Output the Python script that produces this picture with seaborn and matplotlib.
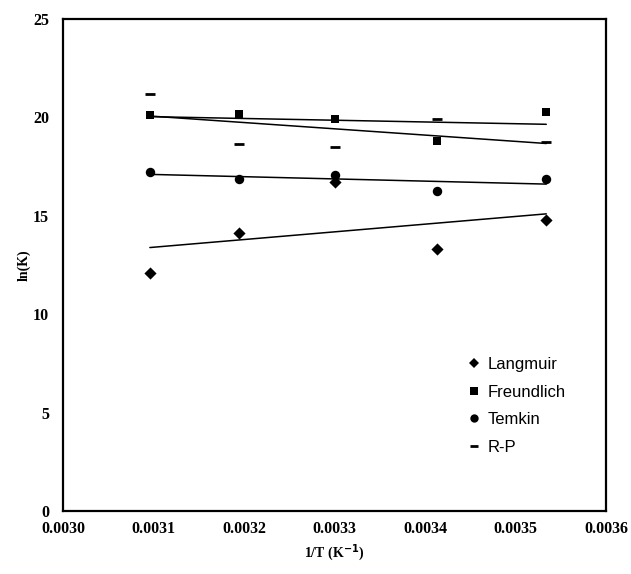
import numpy as np
import pandas as pd
import matplotlib
matplotlib.use("Agg")
import matplotlib.pyplot as plt
from matplotlib.lines import Line2D
import seaborn as sns

# Temperatures 323, 313, 303, 293, 283 K expressed as 1/T
inv_T = [0.003096, 0.003195, 0.003300, 0.003413, 0.003534]

langmuir = [12.11, 14.14, 16.73, 13.30, 14.79]
freundlich = [20.10, 20.16, 19.93, 18.80, 20.26]
temkin = [17.24, 16.85, 17.07, 16.28, 16.89]
rp = [21.19, 18.63, 18.51, 19.92, 18.73]

series_names = ["Langmuir", "Freundlich", "Temkin", "R-P"]
x_ticks = [0.0030, 0.0031, 0.0032, 0.0033, 0.0034, 0.0035, 0.0036]
y_ticks = [0, 5, 10, 15, 20, 25]

df = pd.DataFrame({
    "invT": inv_T * 4,
    "lnK": langmuir + freundlich + temkin + rp,
    "model": sum([[n] * len(inv_T) for n in series_names], []),
})

sns.set_style("white")
plt.rcParams["font.family"] = ["Liberation Serif", "DejaVu Serif"]
plt.rcParams.update({
    "text.color": "black",
    "axes.labelcolor": "black",
    "xtick.color": "black",
    "ytick.color": "black",
})

fig = plt.figure(figsize=(6.31, 5.74), dpi=100)
ax = fig.add_axes([63 / 631, 63 / 574, 543 / 631, 492 / 574])

markers = {"Langmuir": "D", "Freundlich": "s", "Temkin": "o", "R-P": "_"}
sizes = {"Langmuir": 6.2, "Freundlich": 6.4, "Temkin": 6.8, "R-P": 6.5}

# linear trend line for each isotherm model
for name in series_names:
    sub = df[df["model"] == name]
    sns.regplot(data=sub, x="invT", y="lnK", ax=ax, scatter=False, ci=None,
                truncate=True, color="black", line_kws={"linewidth": 1.1})

for name in series_names:
    sub = df[df["model"] == name]
    if name == "R-P":
        ax.plot(sub["invT"], sub["lnK"], linestyle="none", marker="_",
                markersize=sizes[name], markeredgewidth=2.0, color="black", zorder=4)
    else:
        sns.scatterplot(data=sub, x="invT", y="lnK", ax=ax, marker=markers[name],
                        s=sizes[name] ** 2, color="black", edgecolor="black",
                        linewidth=0, zorder=4, legend=False)

ax.set_xlim(0.0030, 0.0036)
ax.set_ylim(0, 25)
ax.set_xticks(x_ticks)
ax.set_xticklabels([f"{v:.4f}" for v in x_ticks])
ax.set_yticks(y_ticks)
ax.set_yticklabels([str(v) for v in y_ticks])

for lbl in ax.get_xticklabels() + ax.get_yticklabels():
    lbl.set_fontweight("bold")
    lbl.set_fontsize(11.5)
    lbl.set_color("black")

ax.tick_params(direction="inout", length=8, width=1, color="black")
ax.tick_params(axis="x", pad=3)
ax.tick_params(axis="y", pad=6)
for side in ["left", "bottom", "right", "top"]:
    ax.spines[side].set_color("black")
    ax.spines[side].set_linewidth(1.6)

ax.set_xlabel("1/T (K$^{\\mathbf{-1}}$)", fontsize=10, fontweight="bold",
              labelpad=4, color="black")
ax.set_ylabel("ln(K)", fontsize=10, fontweight="bold", labelpad=2, color="black")

handles = []
for name in series_names:
    if name == "R-P":
        h = Line2D([], [], linestyle="none", marker="_", markersize=6,
                   markeredgewidth=2.0, color="black")
    else:
        h = Line2D([], [], linestyle="none", marker=markers[name],
                   markersize={"Langmuir": 5, "Freundlich": 5.5, "Temkin": 6}[name],
                   color="black", markeredgewidth=0)
    handles.append(h)

leg = ax.legend(handles, series_names, loc="lower left",
                bbox_to_anchor=(0.72, 0.084), frameon=False,
                prop={"family": "Liberation Sans", "size": 12},
                handlelength=0.6, handletextpad=0.5, labelspacing=0.75)
for t in leg.get_texts():
    t.set_color("black")

fig.savefig("out.png", dpi=100, facecolor="white")
